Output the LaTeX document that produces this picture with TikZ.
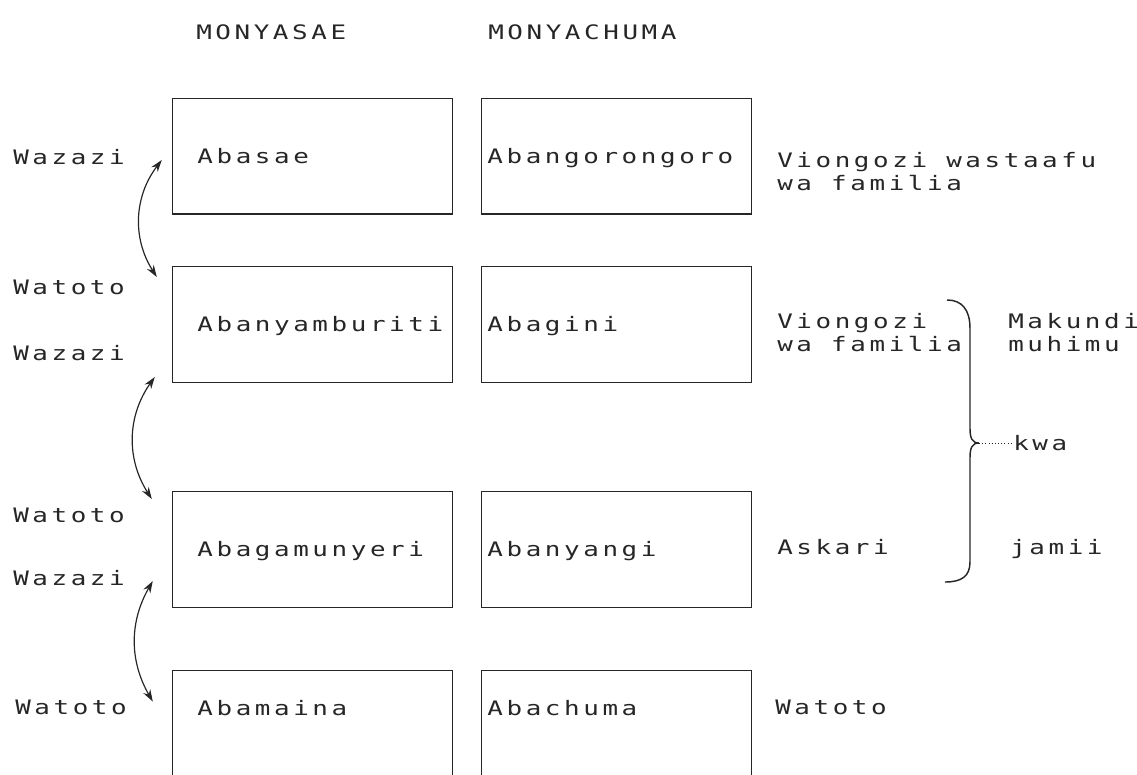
\documentclass[tikz,border=0pt]{standalone}
\usepackage{fontspec}
\usetikzlibrary{arrows.meta}
\newfontfamily\dotfam[FakeStretch=1.3, LetterSpace=18]{DejaVu Sans Mono}
\newcommand{\dotfont}{\dotfam\fontsize{15pt}{18pt}\selectfont}

\begin{document}
\begin{tikzpicture}[
  box/.style={rectangle, draw, line width=1.1pt, minimum height=87pt, text height=10.9pt, text depth=0pt, align=left, font=\dotfont},
  saebox/.style={box, text width=173.25pt, inner xsep=18.75pt},
  chubox/.style={box, text width=194.25pt, inner xsep=4.5pt},
  word/.style={anchor=base west, inner sep=0pt, align=left, font=\dotfont},
  link/.style={<->, >={Stealth[length=9pt,width=6pt]}, line width=0.9pt},
  node distance=8.043cm,
  color=black!85
]
\useasboundingbox (0,0) rectangle (30.083,-20.479);
\clip (0,0) rectangle (30.083,-20.479);

% headers
\node[word] (hsae) at (5.186,-1.032) {MONYASAE};
\node[word] (hchu) at (12.912,-1.032) {MONYACHUMA};

% boxes
\node[saebox] (sae1) at (8.268,-4.128) {Abasae};
\node[chubox, right of=sae1] (chu1) {Abangorongoro};
\node[saebox, below of=sae1, node distance=4.458cm] (sae2) {Abanyamburiti};
\node[chubox, right of=sae2] (chu2) {Abagini};
\node[saebox, below of=sae2, node distance=5.953cm] (sae3) {Abagamunyeri};
\node[chubox, right of=sae3] (chu3) {Abanyangi};
\node[saebox, below of=sae3, node distance=4.723cm, text depth=30pt] (sae4) {Abamaina};
\node[chubox, right of=sae4, text depth=30pt] (chu4) {Abachuma};

% generations
\node[word] (wz1) at (0.344,-4.339) {Wazazi};
\node[word] (wt2) at (0.344,-7.779) {Watoto};
\node[word] (wz2) at (0.344,-9.525) {Wazazi};
\node[word] (wt3) at (0.344,-13.811) {Watoto};
\node[word] (wz3) at (0.344,-15.478) {Wazazi};
\node[word] (wt4) at (0.397,-18.917) {Watoto};

% roles
\node[word] (role1) at (20.558,-5.053) {Viongozi wastaafu\\wa familia};
\node[word] (role2) at (20.558,-9.313) {Viongozi\\wa familia};
\node[word] (role3) at (20.558,-14.684) {Askari};
\node[word] (role4) at (20.505,-18.917) {Watoto};

\node[word] (mak) at (26.670,-9.313) {Makundi\\muhimu};
\node[word] (kwa) at (26.802,-11.906) {kwa};
\node[word] (jam) at (26.723,-14.684) {jamii};

% parents and children
\coordinate (a1) at ([shift={(-0.265,-0.106)}]sae1.west);
\coordinate (b1) at ([shift={(-0.397,-0.291)}]sae2.north west);
\coordinate (a2) at ([shift={(-0.450,0.159)}]sae2.south west);
\coordinate (b2) at ([shift={(-0.529,-0.212)}]sae3.north west);
\coordinate (a3) at ([shift={(-0.503,0.714)}]sae3.south west);
\coordinate (b3) at ([shift={(-0.503,-0.847)}]sae4.north west);
\draw[link] (a1) to[bend right=35] (b1);
\draw[link] (a2) to[bend right=34] (b2);
\draw[link] (a3) to[bend right=30] (b3);

% brace
\draw[line width=1.1pt] (25.056,-7.937) .. controls (25.453,-7.937) and (25.664,-8.202) .. (25.664,-8.678)
  -- (25.664,-11.324) .. controls (25.664,-11.589) and (25.717,-11.721) .. (25.902,-11.721) coordinate (tip)
  .. controls (25.717,-11.721) and (25.664,-11.853) .. (25.664,-12.118)
  -- (25.664,-14.869) .. controls (25.664,-15.240) and (25.453,-15.399) .. (25.003,-15.399);
\draw[dotted] (tip) -- (kwa.west |- tip);
\end{tikzpicture}
\end{document}
